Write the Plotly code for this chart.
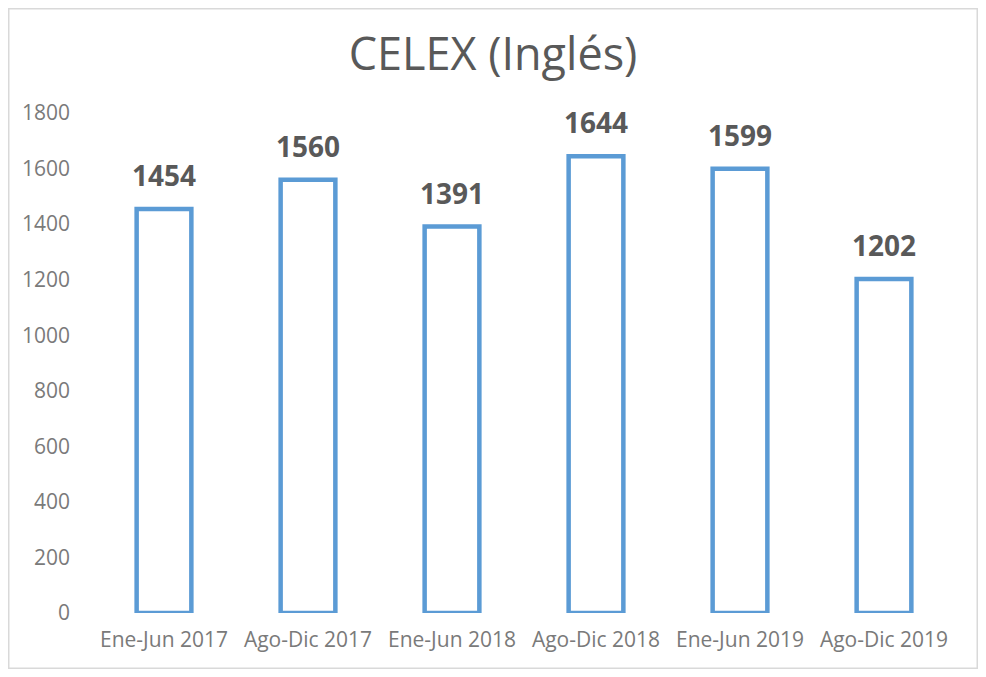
import plotly.graph_objects as go

categories = ["Ene-Jun 2017", "Ago-Dic 2017", "Ene-Jun 2018", "Ago-Dic 2018", "Ene-Jun 2019", "Ago-Dic 2019"]
values = [1454, 1560, 1391, 1644, 1599, 1202]
y_ticks = [0, 200, 400, 600, 800, 1000, 1200, 1400, 1600, 1800]

FONT = "Open Sans"
W, H = 970, 661
ML, MR, MT, MB = 84, 22, 105, 56
PW, PH = W - ML - MR, H - MT - MB

fig = go.Figure()
fig.add_trace(go.Bar(
    x=categories, y=values,
    marker=dict(color="white", line=dict(color="#5B9BD5", width=4.5)),
    hoverinfo="x+y",
))
for c, v in zip(categories, values):
    fig.add_annotation(x=c, y=v, text=f"<b>{v}</b>", showarrow=False,
                       yanchor="bottom", yshift=13,
                       font=dict(family=FONT, size=28, color="#595959"))

# chart-area border around the whole figure
fig.add_shape(type="rect", xref="paper", yref="paper",
              x0=-(ML - 0.75) / PW, x1=(PW + MR - 0.75) / PW,
              y0=-(MB - 0.75) / PH, y1=(PH + MT - 0.75) / PH,
              line=dict(color="#D9D9D9", width=1.5), fillcolor="rgba(0,0,0,0)", layer="below")

fig.update_layout(
    width=W, height=H,
    margin=dict(l=ML, r=MR, t=MT, b=MB),
    paper_bgcolor="white", plot_bgcolor="white",
    bargap=0.62, showlegend=False,
    title=dict(text="CELEX (Inglés)", x=(493 - 8) / W, xref="container", y=1 - (54 - 8) / H, yref="container",
               xanchor="center", yanchor="middle",
               font=dict(family=FONT, size=45, color="#595959")),
    font=dict(family=FONT, size=21, color="#7A7A7A"),
)
fig.update_yaxes(range=[0, 1800], tickvals=y_ticks, showgrid=False, zeroline=False, showline=False,
                 ticklabelstandoff=21, tickfont=dict(size=21, color="#7A7A7A"))
fig.update_xaxes(showgrid=False, showline=False, ticklabelstandoff=12,
                 tickfont=dict(size=21, color="#7A7A7A"))
fig.write_html("out.html")
